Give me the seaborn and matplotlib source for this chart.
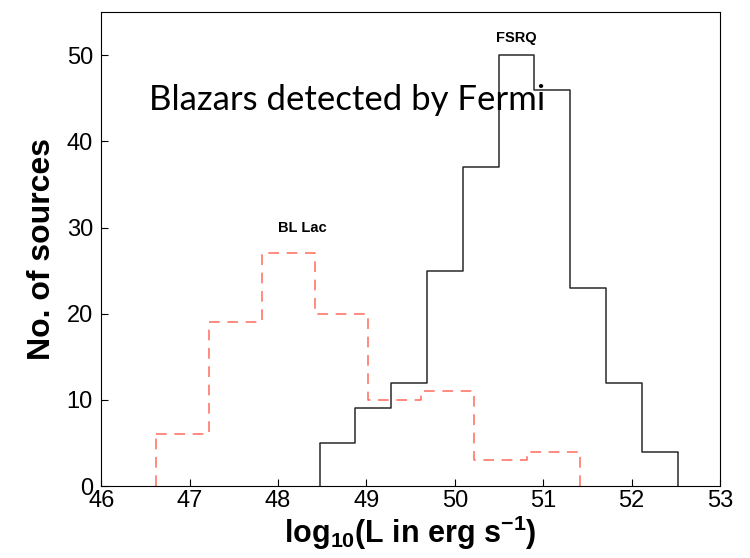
import numpy as np
import pandas as pd
import matplotlib
matplotlib.use("Agg")
import matplotlib.pyplot as plt
import seaborn as sns

# Data
fsrq_edges = [48.47, 48.875, 49.28, 49.685, 50.09, 50.495, 50.9, 51.305, 51.71, 52.115, 52.52]
fsrq_counts = [5, 9, 12, 25, 37, 50, 46, 23, 12, 4]
bllac_edges = [46.62, 47.22, 47.82, 48.42, 49.02, 49.62, 50.22, 50.82, 51.42]
bllac_counts = [6, 19, 27, 20, 10, 11, 3, 4]
xticks = [46, 47, 48, 49, 50, 51, 52, 53]
yticks = [0, 10, 20, 30, 40, 50]

sns.set_theme(style="white")
plt.rcParams['font.family'] = ['Liberation Sans', 'DejaVu Sans']
plt.rcParams['text.color'] = 'black'
plt.rcParams['axes.labelcolor'] = 'black'
plt.rcParams['mathtext.fontset'] = 'custom'
plt.rcParams['mathtext.rm'] = 'Liberation Sans:bold'
plt.rcParams['mathtext.bf'] = 'Liberation Sans:bold'
plt.rcParams['mathtext.it'] = 'Liberation Sans:bold'

fig = plt.figure(figsize=(7.5, 5.58), dpi=100)
ax = fig.add_axes([0.135, 0.129, 0.825, 0.849])

fe = np.array(fsrq_edges)
be = np.array(bllac_edges)
df_f = pd.DataFrame({"x": (fe[:-1] + fe[1:]) / 2, "w": fsrq_counts})
df_b = pd.DataFrame({"x": (be[:-1] + be[1:]) / 2, "w": bllac_counts})

black = "#2a2a2a"
red = "#ff6b5b"
dash = (0, (7, 5))

sns.histplot(data=df_f, x="x", weights="w", bins=list(fsrq_edges), element="step", fill=False,
             color=black, linewidth=1.1, ax=ax)
sns.histplot(data=df_b, x="x", weights="w", bins=list(bllac_edges), element="step", fill=False,
             color=red, linewidth=1.1, linestyle=dash, ax=ax)
# closing vertical edges down to the baseline
ax.vlines([fsrq_edges[0], fsrq_edges[-1]], 0, [fsrq_counts[0], fsrq_counts[-1]],
          colors=black, linewidth=1.1)
ax.vlines([bllac_edges[0], bllac_edges[-1]], 0, [bllac_counts[0], bllac_counts[-1]],
          colors=red, linewidth=1.1, linestyles=[dash])

ax.set_xlim(46, 53)
ax.set_ylim(0, 55)
ax.set_xticks(xticks)
ax.set_yticks(yticks)
ax.tick_params(axis='both', direction='in', length=5, width=0.8, labelsize=17,
               colors='black', bottom=True, left=True)
ax.tick_params(axis='x', pad=3)
ax.tick_params(axis='y', pad=6)
for s in ax.spines.values():
    s.set_color('black')
    s.set_linewidth(0.8)

ax.set_xlabel(r"log$_{10}$(L in erg s$^{-1}$)", fontsize=22,
              fontweight='bold', labelpad=1)
ax.set_ylabel("No. of sources", fontsize=23, fontweight='bold', labelpad=7)

ax.text(48.28, 30.0, "BL Lac", fontsize=10.5, fontweight='bold', ha='center', va='center')
ax.text(50.7, 52.0, "FSRQ", fontsize=10.5, fontweight='bold', ha='center', va='center')
ax.text(46.54, 44.8, "Blazars detected by Fermi", fontsize=25,
        family=['Lato', 'DejaVu Sans'], ha='left', va='center')

fig.savefig("out.png", dpi=100)
